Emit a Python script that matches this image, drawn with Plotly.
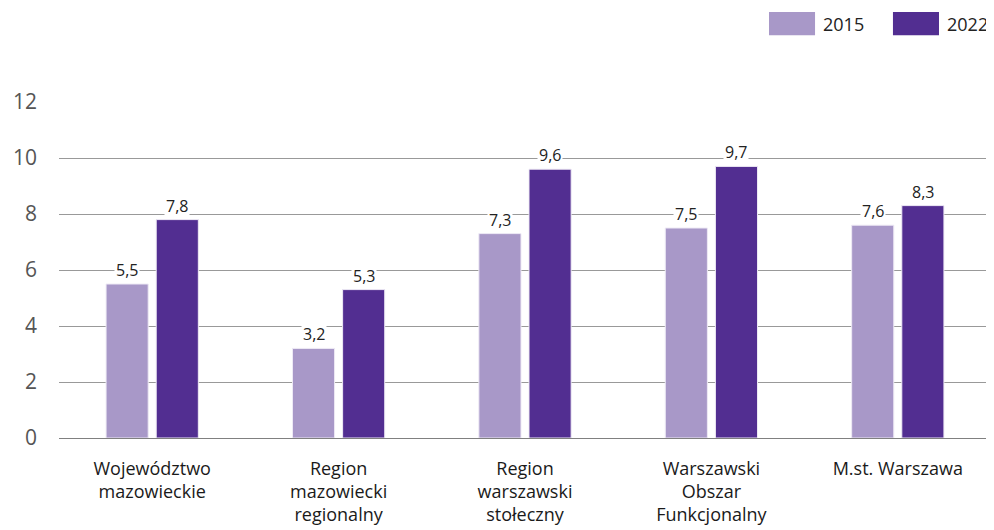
import plotly.graph_objects as go

categories = ["Województwo<br>mazowieckie", "Region<br>mazowiecki<br>regionalny",
              "Region<br>warszawski<br>stołeczny", "Warszawski<br>Obszar<br>Funkcjonalny",
              "M.st. Warszawa"]
series_names = ["2015", "2022"]
values_2015 = [5.5, 3.2, 7.3, 7.5, 7.6]
values_2022 = [7.8, 5.3, 9.6, 9.7, 8.3]
y_ticks = [0, 2, 4, 6, 8, 10, 12]

colors = ["#A898C8", "#522E91"]
FONT = "Open Sans"

x_idx = list(range(len(categories)))
fig = go.Figure()
for name, vals, col in zip(series_names, [values_2015, values_2022], colors):
    fig.add_trace(go.Bar(x=x_idx, y=vals, name=name, marker_color=col,
                         marker_line=dict(color="#EEEAF5", width=1), showlegend=False))

# data labels with white background (interrupting gridlines)
for si, vals in enumerate([values_2015, values_2022]):
    for i, v in enumerate(vals):
        fig.add_annotation(x=i, y=v, xref="x", yref="y", text=f"{v:.1f}".replace(".", ","),
                           showarrow=False, yanchor="bottom", xshift=(-25 if si == 0 else 25),
                           yshift=1, bgcolor="white", borderpad=1,
                           font=dict(family=FONT, size=16, color="#222222"))

# manual legend with large swatches
legend_items = [(series_names[0], colors[0], 0.7618), (series_names[1], colors[1], 0.8948)]
for name, col, x0 in legend_items:
    fig.add_shape(type="rect", xref="paper", yref="paper", x0=x0, x1=x0 + 0.0494,
                  y0=1.199, y1=1.268, fillcolor=col, line=dict(width=0))
    fig.add_annotation(xref="paper", yref="paper", x=x0 + 0.0494 + 0.006, y=1.233,
                       text=name, showarrow=False, xanchor="left", yanchor="middle",
                       font=dict(family=FONT, size=18, color="#222222"))

fig.update_layout(
    width=986, height=522,
    margin=dict(l=51, r=3, t=94, b=92),
    paper_bgcolor="white", plot_bgcolor="white",
    barmode="group", bargap=0.462, bargroupgap=0.16,
    font=dict(family=FONT),
    xaxis=dict(tickmode="array", tickvals=x_idx, ticktext=categories, range=[-0.5, 4.5],
               showgrid=False, zeroline=False, showline=True, linecolor="#808080", linewidth=1,
               tickfont=dict(family=FONT, size=18, color="#1a1a1a"), ticks="", ticklabelstandoff=14),
    yaxis=dict(range=[0, 12], tickvals=y_ticks, showgrid=True, gridcolor="#999999", gridwidth=1,
               zeroline=False, showline=False, ticks="",
               tickfont=dict(family=FONT, size=21, color="#555555"), ticklabelstandoff=21),
)

fig.write_html("out.html")
